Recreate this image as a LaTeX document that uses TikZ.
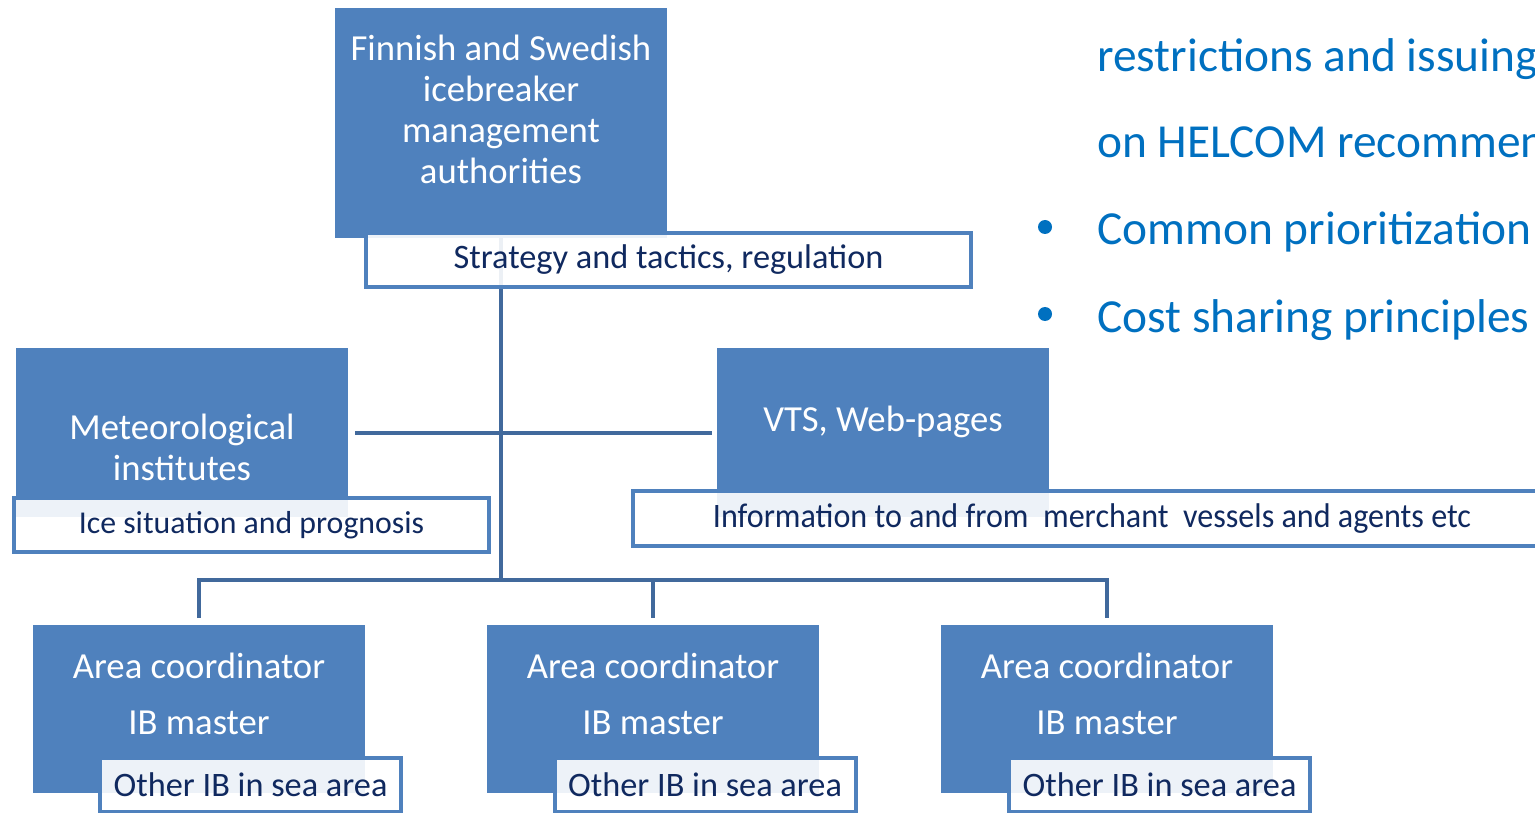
\documentclass[tikz,border=0pt]{standalone}
\usepackage{fontspec}
\setmainfont{Carlito}
\newfontfamily\condfont[FakeStretch=0.936]{Carlito}
\usetikzlibrary{calc}
\definecolor{boxblue}{HTML}{4F81BD}
\definecolor{linkblue}{HTML}{41699C}
\definecolor{navy}{HTML}{10295F}
\definecolor{listblue}{HTML}{0070C0}
\tikzset{
  bluebox/.style={fill=boxblue, draw=none, anchor=north west, inner sep=0pt},
  boxtext/.style={text=white, align=center, inner sep=0pt,
    font=\fontsize{36.7}{41}\selectfont},
  tagbox/.style={draw=boxblue, line width=4pt, fill=white, fill opacity=0.9,
    text opacity=1, text=navy, inner sep=0pt, minimum height=54pt,
    font=\fontsize{34.3}{40}\selectfont},
  link/.style={draw=linkblue, line width=4pt},
  listtext/.style={text=listblue, anchor=base west, inner sep=0pt,
    font=\fontsize{47.4}{50}\selectfont},
  dot/.style={circle, fill=listblue, minimum size=14pt, inner sep=0pt},
}
\begin{document}
\begin{tikzpicture}[x=1pt, y=-1pt]
\useasboundingbox (0,0) rectangle (1535,813);
\clip (0,0) rectangle (1535,813);

% blue organisation boxes
\node[bluebox, minimum width=332pt, minimum height=230pt] (fin) at (335,8) {};
\node[bluebox, minimum width=332pt, minimum height=169pt] (met) at (16,348) {};
\node[bluebox, minimum width=332pt, minimum height=169pt] (vts) at (717,348) {};
\node[bluebox, minimum width=332pt, minimum height=168pt] (a1) at (33,625) {};
\node[bluebox, minimum width=332pt, minimum height=168pt] (a2) at (487,625) {};
\node[bluebox, minimum width=332pt, minimum height=168pt] (a3) at (941,625) {};

% their captions
\node[boxtext] (fint) at (501,109) {Finnish and Swedish\\icebreaker\\management\\authorities};
\node[boxtext] (mett) at (182,447) {Meteorological\\institutes};
\node[boxtext] (vtst) at (883,422) {VTS, Web-pages};
\node[boxtext, font=\fontsize{36.7}{56}\selectfont] (a1t) at (199,694) {Area coordinator\\IB master};
\node[boxtext, font=\fontsize{36.7}{56}\selectfont] (a2t) at (653,694) {Area coordinator\\IB master};
\node[boxtext, font=\fontsize{36.7}{56}\selectfont] (a3t) at (1107,694) {Area coordinator\\IB master};

% connectors
\coordinate (busy) at (0,580);
\draw[link] (fin.south) -- (fin.south |- busy);
\draw[link] ([xshift=7pt]met.east) -- ([xshift=-5pt]vts.west);
\draw[link] ([yshift=7pt]a1.north) -- (a1.north |- busy) -- (a3.north |- busy) -- ([yshift=7pt]a3.north);
\draw[link] (a2.north |- busy) -- ([yshift=7pt]a2.north);

% white role boxes
\node[tagbox, minimum width=605pt] (strat) at (668.5,260) {Strategy and tactics, regulation};
\node[tagbox, minimum width=475pt, font=\fontsize{31.8}{38}\selectfont] (ice) at (251.5,525) {Ice situation and prognosis};
\node[tagbox, minimum width=918pt, minimum height=55pt] (info) at (1092,518.5) {\condfont Information to and from\ \ merchant\ \ vessels and agents etc};
\node[tagbox, minimum width=301pt] (o1) at (250.5,784.5) {Other IB in sea area};
\node[tagbox, minimum width=301pt] (o2) at (705,784.5) {Other IB in sea area};
\node[tagbox, minimum width=301pt] (o3) at (1159.5,784.5) {Other IB in sea area};

% list on the right
\node[listtext] (r1) at (1097,72) {restrictions and issuing};
\node[listtext] (r2) at (1097,158) {on HELCOM recommendations};
\node[listtext] (r3) at (1097,245) {Common prioritization};
\node[listtext] (r4) at (1097,332) {Cost sharing principles};
\node[dot] (b1) at (1045,227) {};
\node[dot] (b2) at (1045,314) {};
\end{tikzpicture}
\end{document}
